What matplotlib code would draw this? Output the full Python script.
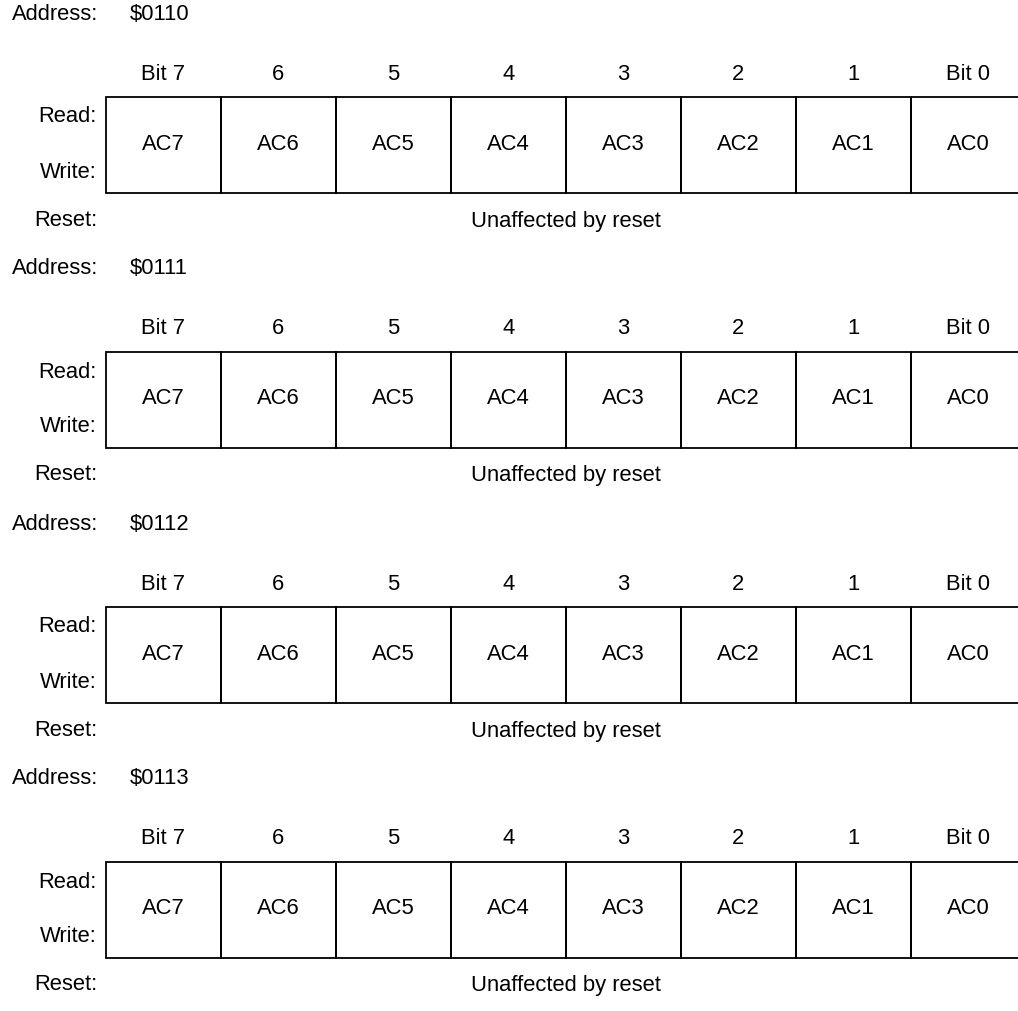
#!/usr/bin/env python3
"""Register map: four 8-bit AC registers at $0110-$0113 -> out.png"""
import matplotlib
matplotlib.use("Agg")
import matplotlib.pyplot as plt
from matplotlib.patches import Rectangle

ADDRESSES = ["$0110", "$0111", "$0112", "$0113"]
BIT_LABELS = ["Bit 7", "6", "5", "4", "3", "2", "1", "Bit 0"]
FIELDS = ["AC7", "AC6", "AC5", "AC4", "AC3", "AC2", "AC1", "AC0"]
RESET_TEXT = "Unaffected by reset"

plt.rcParams["font.family"] = ["Liberation Sans Narrow", "Liberation Sans", "DejaVu Sans"]
FS = 15.8

W, H = 1018, 1011
fig = plt.figure(figsize=(W / 100, H / 100), dpi=100)
ax = fig.add_axes([0, 0, 1, 1])
ax.set_xlim(0, W)
ax.set_ylim(H, 0)
ax.axis("off")

X0, CELL_W = 106, 115
BLOCK = 255
LABEL_R = 97

for i, addr in enumerate(ADDRESSES):
    y = i * BLOCK
    ax.text(12, y + 14, "Address:", fontsize=FS, ha="left", va="center")
    ax.text(130, y + 14, addr, fontsize=FS, ha="left", va="center")
    top, bot = y + 97, y + 193
    for j, (bl, fld) in enumerate(zip(BIT_LABELS, FIELDS)):
        cx = X0 + CELL_W * (j + 0.5)
        ax.text(cx, y + 74, bl, fontsize=FS, ha="center", va="center")
        ax.add_patch(Rectangle((X0 + CELL_W * j, top), CELL_W, bot - top,
                               fill=False, edgecolor="black", linewidth=1.3))
        ax.text(cx, (top + bot) / 2 - 1, fld, fontsize=FS, ha="center", va="center")
    ax.text(LABEL_R, y + 117, "Read:", fontsize=FS, ha="right", va="center")
    ax.text(LABEL_R, y + 172, "Write:", fontsize=FS, ha="right", va="center")
    ax.text(LABEL_R, y + 220, "Reset:", fontsize=FS, ha="right", va="center")
    ax.text(X0 + CELL_W * 4, y + 221, RESET_TEXT, fontsize=FS, ha="center", va="center")

fig.savefig("out.png", dpi=100)
